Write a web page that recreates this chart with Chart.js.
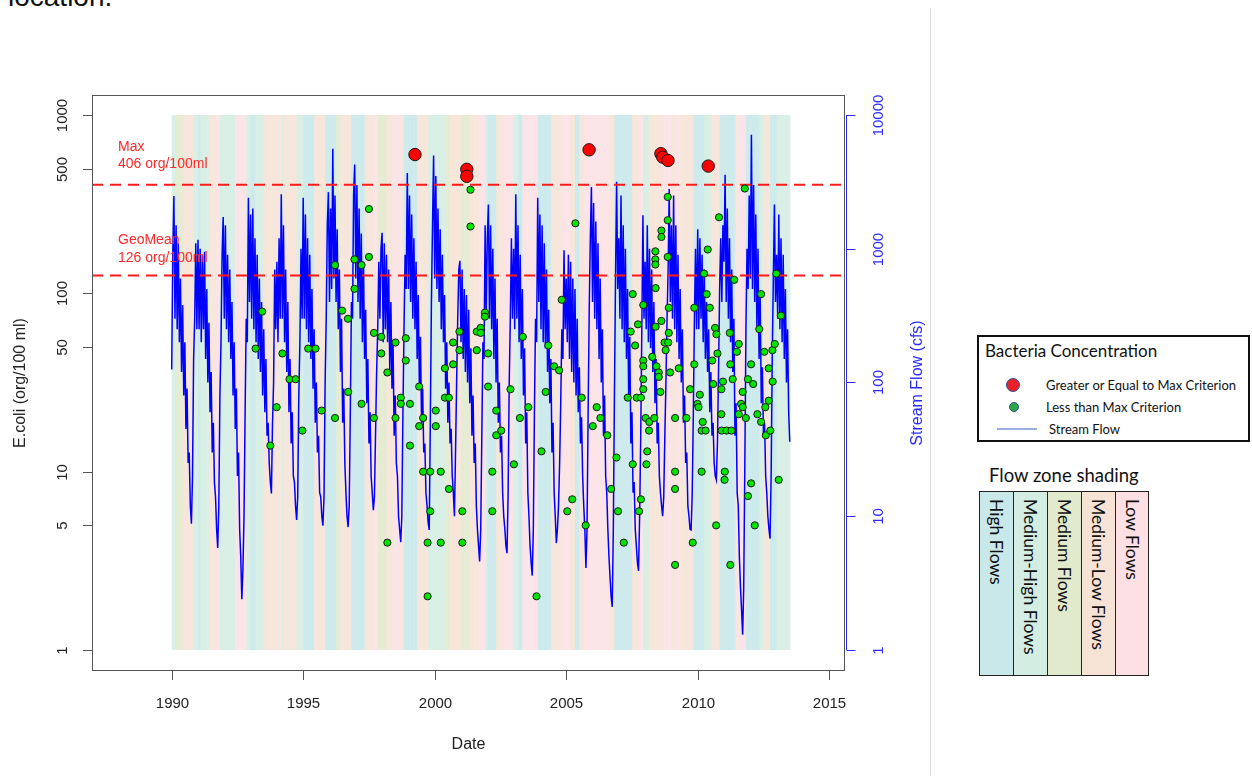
<!DOCTYPE html>
<html>
<head>
<meta charset="utf-8">
<title>E.coli and stream flow</title>
<script src="https://cdn.jsdelivr.net/npm/chart.js@4.4.0/dist/chart.umd.min.js"></script>
<style>
  body { margin: 0; width: 1252px; height: 776px; overflow: hidden; position: relative; background: #fff;
         font-family: "Liberation Sans", Arial, sans-serif; }
  #wrap { position: absolute; left: 0; top: 0; width: 930px; height: 776px; }
  #sep { position: absolute; left: 930px; top: 8px; width: 1px; height: 768px; background: #dcdcdc; }
  #caption { position: absolute; left: 8px; top: -17px; font-size: 28px; line-height: 28px; color: #111; }
  .lg { font-family: Lato, "Open Sans", sans-serif; color: #111; position: absolute; white-space: nowrap; }
  #box1 { position: absolute; left: 977px; top: 335px; width: 273px; height: 107px; border: 2px solid #111; box-sizing: border-box; }
  .dot { position: absolute; border-radius: 50%; box-sizing: border-box; border: 1.5px solid #2e4f8e; }
  .zone { position: absolute; top: 491px; height: 185px; box-sizing: border-box; border: 1.5px solid #222;
          writing-mode: vertical-rl; font-family: Lato, "Open Sans", sans-serif; font-size: 17.5px; color: #111;
          padding-top: 7px; display: flex; align-items: center; }
</style>
</head>
<body>
<div id="caption">location.</div>
<div id="wrap"><canvas id="c" width="930" height="776"></canvas></div>
<div id="sep"></div>

<div id="box1"></div>
<div class="lg" style="left:985px; top:340px; font-size:17px;">Bacteria Concentration</div>
<div class="dot" style="left:1006px; top:378px; width:14px; height:14px; background:#e8202a;"></div>
<div class="lg" style="left:1046px; top:377px; font-size:13px;">Greater or Equal to Max Criterion</div>
<div class="dot" style="left:1009px; top:402px; width:10px; height:10px; background:#2ea845;"></div>
<div class="lg" style="left:1046px; top:399px; font-size:13px;">Less than Max Criterion</div>
<div style="position:absolute; left:997px; top:428px; width:40px; height:2px; background:#9aaee0;"></div>
<div class="lg" style="left:1049px; top:421px; font-size:13px;">Stream Flow</div>
<div class="lg" style="left:989px; top:464px; font-size:18.5px;">Flow zone shading</div>
<div id="zones"></div>

<script>
// flow zone classes used for the background shading and the key
const zoneNames = ['High Flows', 'Medium-High Flows', 'Medium Flows', 'Medium-Low Flows', 'Low Flows'];
const zoneColors = ['#c8e8ea', '#d3ede2', '#e2eace', '#f6e3d6', '#fce0e4'];

// monthly flow zone (1 = high ... 5 = low), one string per year from 1990
const zoneStartYear = 1990;
const zoneMonths = [
  '223334444422', '122224445522', '222225555522', '112222444444', '442444444222',
  '111114444411', '111334444411', '111144445533', '334445555411', '111144444222',
  '222223344444', '333344445552', '111144455555', '221155555551', '111114444455',
  '554411445555', '555555554411', '111111444552', '224444445555', '445544444411',
  '111222444411', '111114555511', '111122444111', '222222'
];

// stream flow (cfs), twice a month, one row per year from 1990
const flowStartYear = 1990;
const flowPerYear = 24;
const flowByYear = [
  [125, 900, 2480, 300, 1500, 250, 1100, 200, 600, 120, 380, 80, 200, 45, 90, 25, 30, 12, 8.8, 20, 150, 300, 1100, 250],
  [1167, 250, 1000, 200, 900, 250, 950, 150, 500, 100, 280, 60, 120, 30, 50, 18, 14, 8, 5.8, 12, 80, 200, 900, 1727],
  [300, 1500, 250, 900, 200, 700, 150, 400, 80, 200, 45, 90, 20, 30, 8, 5, 2.4, 4, 10, 60, 300, 200, 2410, 400],
  [1800, 300, 2000, 250, 1200, 200, 900, 150, 600, 120, 400, 80, 250, 60, 150, 40, 50, 25, 18, 14.8, 50, 100, 700, 250],
  [800, 200, 1200, 300, 2550, 300, 1500, 200, 700, 120, 400, 60, 150, 35, 60, 20, 18, 12, 9.4, 14, 80, 200, 1000, 300],
  [2410, 300, 1800, 250, 1200, 200, 900, 150, 500, 90, 250, 50, 100, 30, 40, 15, 14, 10, 8.5, 14, 100, 300, 1500, 2650],
  [400, 2000, 500, 5600, 600, 2500, 400, 1400, 250, 700, 120, 300, 50, 90, 25, 15, 10, 8.3, 12, 60, 400, 300, 2500, 4270],
  [600, 3000, 400, 2000, 300, 1300, 200, 800, 150, 350, 70, 150, 35, 60, 20, 15, 11.1, 14, 40, 120, 250, 800, 300, 1000],
  [1316, 200, 1100, 250, 900, 200, 700, 120, 400, 90, 200, 40, 80, 25, 20, 10, 8, 6.4, 10, 60, 250, 900, 500, 3680],
  [500, 2500, 400, 1800, 300, 1200, 250, 800, 150, 450, 90, 220, 50, 90, 30, 35, 15, 12, 9, 7.9, 50, 400, 1500, 4970],
  [600, 3500, 500, 2000, 400, 1400, 250, 900, 200, 450, 90, 200, 50, 100, 35, 45, 20, 15, 10, 30, 100, 300, 700, 813],
  [200, 700, 150, 500, 120, 450, 100, 350, 70, 180, 40, 80, 25, 35, 12, 8, 6, 4.6, 8, 40, 200, 150, 1500, 300],
  [1200, 2140, 300, 1500, 250, 1000, 150, 600, 100, 300, 50, 100, 30, 40, 15, 10, 8, 6, 5.3, 15, 100, 300, 1200, 300],
  [1000, 250, 2550, 300, 1500, 200, 900, 150, 500, 80, 180, 35, 60, 15, 10, 6, 4.5, 3.6, 8, 60, 300, 200, 2410, 400],
  [1800, 250, 1500, 200, 1100, 180, 700, 120, 350, 70, 150, 30, 50, 15, 10, 6.3, 8, 12, 25, 70, 250, 150, 973, 250],
  [600, 200, 900, 150, 800, 120, 600, 100, 500, 80, 300, 60, 130, 35, 55, 20, 12, 8, 4.1, 8, 60, 350, 1200, 2890],
  [400, 2200, 300, 1600, 250, 1100, 150, 600, 100, 250, 40, 80, 20, 15, 8, 5, 3.5, 2.5, 2.1, 8, 80, 600, 3170, 500],
  [1200, 300, 2500, 250, 1500, 200, 1000, 150, 500, 80, 220, 35, 60, 15, 18, 8, 6, 4.5, 3.9, 10, 40, 250, 1780, 300],
  [800, 250, 1500, 200, 1000, 180, 700, 120, 400, 70, 150, 35, 50, 20, 15, 12, 10, 14, 40, 100, 300, 700, 2800, 400],
  [1500, 300, 2500, 250, 1500, 200, 900, 150, 500, 100, 250, 50, 80, 25, 30, 12, 10, 8, 7.9, 15, 60, 300, 1000, 250],
  [1400, 250, 1200, 300, 900, 200, 700, 150, 400, 120, 250, 60, 120, 40, 50, 25, 20, 18.7, 35, 120, 500, 1200, 400, 1500],
  [800, 3570, 400, 2000, 300, 1200, 200, 700, 120, 300, 40, 70, 15, 12, 5, 3, 2, 1.3, 3, 25, 250, 1000, 500, 2500],
  [600, 7130, 500, 3000, 400, 1800, 250, 1000, 150, 450, 70, 130, 40, 50, 20, 15, 10, 8, 6.8, 20, 150, 600, 2140, 400],
  [900, 300, 1800, 250, 1200, 200, 900, 150, 500, 100, 250, 60, 36]
];

// samples below the max criterion
const greenDates = [1993.19,1993.44,1993.75,1993.99,1994.21,1994.48,1994.71,1994.97,1995.19,1995.47,1995.70,
  1996.21,1996.21,1996.48,1996.70,1996.71,1996.95,1996.95,1997.22,1997.22,1997.50,1997.50,1997.69,1997.69,1997.97,1997.97,
  1998.20,1998.20,1998.51,1998.51,1998.71,1998.71,1998.90,1998.90,1999.06,1999.06,1999.41,1999.41,1999.56,1999.56,1999.73,1999.73,1999.83,1999.83,
  2000.04,2000.04,2000.23,2000.23,2000.39,2000.39,2000.54,2000.54,2000.70,2000.70,2000.94,2000.94,2001.05,2001.05,2001.36,2001.36,2001.60,2001.60,2001.75,2001.75,2001.91,2001.91,
  2002.03,2002.03,2002.19,2002.19,2002.34,2002.34,2002.53,2002.88,2003.01,2003.24,2003.35,2003.56,2003.87,
  2004.06,2004.22,2004.32,2004.54,2004.73,2004.83,2005.04,2005.23,2005.35,2005.59,2005.74,
  2006.01,2006.16,2006.30,2006.56,2006.71,2006.91,2006.97,2007.19,2007.34,2007.45,2007.53,2007.53,2007.62,2007.68,2007.73,2007.77,2007.84,2007.84,2007.93,2007.93,2007.93,2007.93,2007.93,
  2008.02,2008.05,2008.08,2008.15,2008.16,2008.27,2008.35,2008.39,2008.39,2008.39,2008.40,2008.40,2008.43,2008.52,2008.52,2008.58,2008.62,2008.62,2008.62,2008.74,2008.78,2008.86,2008.86,2008.86,2008.88,2008.90,2008.90,2008.95,
  2009.14,2009.14,2009.14,2009.14,2009.28,2009.57,2009.71,2009.81,2009.87,2009.87,2009.99,
  2010.03,2010.08,2010.15,2010.15,2010.19,2010.24,2010.30,2010.34,2010.38,2010.46,2010.55,2010.59,2010.66,2010.70,2010.71,2010.75,2010.81,2010.90,2010.90,2010.91,2010.96,
  2011.02,2011.03,2011.10,2011.22,2011.24,2011.24,2011.28,2011.33,2011.39,2011.49,2011.56,2011.56,2011.65,2011.71,2011.71,2011.79,2011.83,2011.91,2011.91,
  2012.03,2012.03,2012.11,2012.17,2012.27,2012.34,2012.41,2012.41,2012.53,2012.57,2012.59,2012.70,2012.70,2012.76,2012.84,2012.85,2012.93,2012.99,2013.08,2013.16];
const greenValues = [49,79,14,23,46,33,33,17,49,49,22,
  144,20,80,72,28,155,106,144,24,297,160,60,20,57,46,
  36,4,53,20,26,24,56,42,24,14,30,18,20,10,4,2,10,6,
  22,18,10,4,38,26,26,8,53,40,61,48,6,4,381,237,61,48,64,60,78,74,
  46,30,10,6,22,16,17,29,11,20,57,23,2,
  13,28,51,39,37,92,6,7,247,26,5,
  18,23,20,16,8,12,6,4,26,61,99,11,51,26,67,6,26,7,86,42,39,33,29,
  20,11,13,17,19,44,20,172,155,145,107,65,39,36,34,28,225,207,70,53,48,347,257,160,53,83,60,36,
  20,10,8,3,38,20,29,4,83,40,24,
  23,27,17,10,19,129,17,99,176,83,42,31,64,5,59,46,267,29,21,17,32,
  9,10,17,60,40,3,17,33,119,47,52,21,24,28,23,387,20,33,7.3,
  40,8.6,31,5,21,63,99,19,47,23,16,38,25,17,48,32,52,129,9,75];

// samples at or above the max criterion
const redDates = [1999.25, 2001.22, 2001.22, 2005.87, 2008.60, 2008.67, 2008.87, 2010.40];
const redValues = [600, 496, 453, 638, 607, 580, 556, 517];

const maxCriterion = 406;
const geoMeanCriterion = 126;

const leftTicks = [1, 5, 10, 50, 100, 500, 1000];
const rightTicks = [1, 10, 100, 1000, 10000];
const yearTicks = [1990, 1995, 2000, 2005, 2010, 2015];

const flowData = [];
flowByYear.forEach((row, k) => row.forEach((q, i) => flowData.push({ x: flowStartYear + k + i / flowPerYear, y: q })));
const greenPts = greenDates.map((d, i) => ({ x: d, y: greenValues[i] }));
const redPts = redDates.map((d, i) => ({ x: d, y: redValues[i] }));

// key for the flow zones
const zonesDiv = document.getElementById('zones');
const zoneEdges = [979, 1013, 1047, 1081, 1115, 1148];
zoneNames.forEach((n, i) => {
  const d = document.createElement('div');
  d.className = 'zone';
  d.style.left = zoneEdges[i] + 'px';
  d.style.width = (zoneEdges[i + 1] - zoneEdges[i] + 1) + 'px';
  d.style.background = zoneColors[i];
  d.textContent = n;
  zonesDiv.appendChild(d);
});

const FONT = '"Liberation Sans", Arial, sans-serif';

function seg(ctx, x0, y0, x1, y1) {
  ctx.beginPath(); ctx.moveTo(x0, y0); ctx.lineTo(x1, y1); ctx.stroke();
}

const rPlot = {
  id: 'rPlot',
  beforeDatasetsDraw(chart) {
    const { ctx, scales: { x, y } } = chart;
    const top = y.getPixelForValue(1000), bot = y.getPixelForValue(1);
    ctx.save();
    ctx.globalAlpha = 0.85;
    zoneMonths.forEach((s, k) => {
      for (let m = 0; m < s.length; m++) {
        const x0 = x.getPixelForValue(zoneStartYear + k + m / 12);
        const x1 = x.getPixelForValue(zoneStartYear + k + (m + 1) / 12);
        ctx.fillStyle = zoneColors[+s[m] - 1];
        ctx.fillRect(x0, top, x1 - x0 + 0.6, bot - top);
      }
    });
    ctx.restore();
  },
  afterDatasetDraw(chart, args) {
    if (args.index !== 0) return;
    const { ctx, chartArea: a, scales: { y } } = chart;
    ctx.save();
    ctx.strokeStyle = '#ff1a1a';
    ctx.lineWidth = 2;
    ctx.setLineDash([11, 7]);
    [maxCriterion, geoMeanCriterion].forEach(v => {
      const py = y.getPixelForValue(v);
      seg(ctx, a.left, py, a.right, py);
    });
    ctx.restore();
  },
  afterDraw(chart) {
    const { ctx, chartArea: a, scales: { x, y, y2 } } = chart;
    ctx.save();
    // criterion labels
    ctx.fillStyle = '#ff2a2a';
    ctx.font = '14px ' + FONT;
    ctx.textAlign = 'left';
    ctx.textBaseline = 'middle';
    const ym = y.getPixelForValue(maxCriterion), yg = y.getPixelForValue(geoMeanCriterion);
    ctx.fillText('Max', 118, ym - 38);
    ctx.fillText(maxCriterion + ' org/100ml', 118, ym - 21);
    ctx.fillText('GeoMean', 118, yg - 35);
    ctx.fillText(geoMeanCriterion + ' org/100ml', 118, yg - 17);

    // box
    ctx.strokeStyle = '#555';
    ctx.lineWidth = 1;
    ctx.strokeRect(a.left + 0.5, a.top + 0.5, a.right - a.left - 1, a.bottom - a.top - 1);

    // left axis
    ctx.fillStyle = '#222';
    ctx.font = '15px ' + FONT;
    ctx.textAlign = 'center';
    leftTicks.forEach(v => {
      const py = Math.round(y.getPixelForValue(v)) + 0.5;
      seg(ctx, a.left - 9, py, a.left, py);
      ctx.save(); ctx.translate(63, py); ctx.rotate(-Math.PI / 2); ctx.fillText(String(v), 0, 0); ctx.restore();
    });

    // bottom axis
    yearTicks.forEach(v => {
      const px = Math.round(x.getPixelForValue(v)) + 0.5;
      seg(ctx, px, a.bottom, px, a.bottom + 9);
      ctx.fillText(String(v), px, 704);
    });
    ctx.font = '16px ' + FONT;
    ctx.fillText('Date', (a.left + a.right) / 2, 745);
    ctx.save(); ctx.translate(21, (a.top + a.bottom) / 2); ctx.rotate(-Math.PI / 2);
    ctx.fillText('E.coli (org/100 ml)', 0, 0); ctx.restore();

    // right axis (flow)
    ctx.strokeStyle = '#2a2aff';
    ctx.fillStyle = '#2a2aff';
    const rx = a.right + 1.5;
    seg(ctx, rx, y2.getPixelForValue(1), rx, y2.getPixelForValue(10000));
    ctx.font = '15px ' + FONT;
    rightTicks.forEach(v => {
      const py = Math.round(y2.getPixelForValue(v)) + 0.5;
      seg(ctx, rx, py, rx + 9, py);
      ctx.save(); ctx.translate(879, py); ctx.rotate(-Math.PI / 2); ctx.fillText(String(v), 0, 0); ctx.restore();
    });
    ctx.font = '16px ' + FONT;
    ctx.save(); ctx.translate(918, (a.top + a.bottom) / 2); ctx.rotate(-Math.PI / 2);
    ctx.fillText('Stream Flow (cfs)', 0, 0); ctx.restore();
    ctx.restore();
  }
};

const hidden = { ticks: { display: false }, grid: { display: false }, border: { display: false } };

new Chart(document.getElementById('c'), {
  type: 'scatter',
  data: {
    datasets: [
      { type: 'line', label: 'Stream Flow', data: flowData, yAxisID: 'y2', borderColor: '#0000ff', borderWidth: 1.5,
        pointRadius: 0, tension: 0, fill: false, order: 3 },
      { label: 'Less than Max Criterion', data: greenPts, yAxisID: 'y', pointRadius: 3.6,
        backgroundColor: '#00e400', borderColor: '#1a1a1a', borderWidth: 1, order: 2 },
      { label: 'Greater or Equal to Max Criterion', data: redPts, yAxisID: 'y', pointRadius: 6.2,
        backgroundColor: '#ff0000', borderColor: '#1a1a1a', borderWidth: 1, order: 1 }
    ]
  },
  options: {
    responsive: false,
    animation: false,
    devicePixelRatio: 1,
    events: [],
    layout: { padding: { top: 95, left: 0, right: 0, bottom: 0 } },
    plugins: { legend: { display: false }, tooltip: { enabled: false } },
    scales: {
      x: { type: 'linear', min: 1986.97, max: 2015.6, bounds: 'data', ...hidden,
           afterFit(s) { s.height = 105; } },
      y: { type: 'logarithmic', position: 'left', min: 0.7626, max: 1294.5, bounds: 'data', ...hidden,
           afterFit(s) { s.width = 92; } },
      y2: { type: 'logarithmic', position: 'right', min: 0.6966, max: 14109, bounds: 'data', ...hidden,
            afterFit(s) { s.width = 85; } }
    }
  },
  plugins: [rPlot]
});
</script>
</body>
</html>
